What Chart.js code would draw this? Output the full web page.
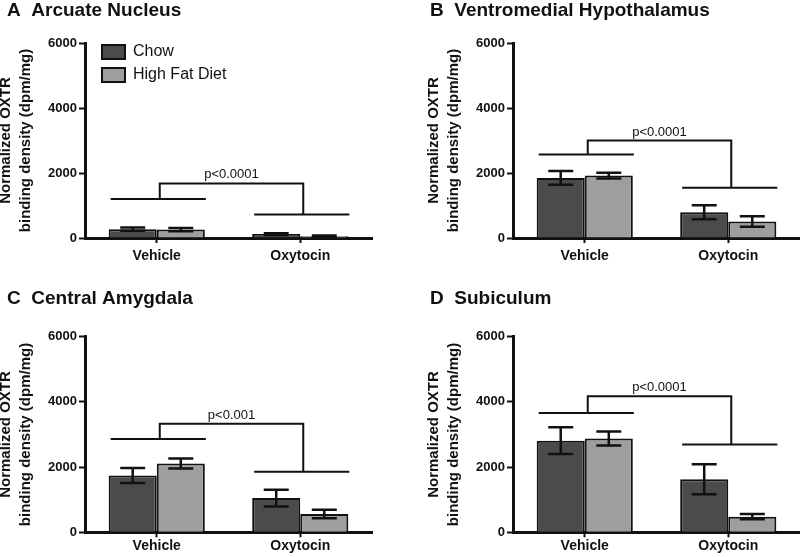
<!DOCTYPE html>
<html>
<head>
<meta charset="utf-8">
<script src="https://cdn.jsdelivr.net/npm/chart.js@4.4.0/dist/chart.umd.min.js"></script>
<style>
  body { margin: 0; background: #fff; }
  #page { position: relative; width: 800px; height: 557px; overflow: hidden; }
  .panel { position: absolute; width: 400px; }
</style>
</head>
<body>
<div id="page">
  <div class="panel" style="left:0;top:0;height:280px"><canvas id="chartA"></canvas></div>
  <div class="panel" style="left:400px;top:0;height:280px"><canvas id="chartB"></canvas></div>
  <div class="panel" style="left:0;top:280px;height:277px"><canvas id="chartC"></canvas></div>
  <div class="panel" style="left:400px;top:280px;height:277px"><canvas id="chartD"></canvas></div>
</div>
<script>
const categories = ['Vehicle', 'Oxytocin'];
const seriesLabels = ['Chow', 'High Fat Diet'];
const yTickValues = [0, 2000, 4000, 6000];

// A - Arcuate Nucleus
const arcChow = [270, 120];
const arcChowSem = [50, 30];
const arcHfd = [260, 55];
const arcHfdSem = [50, 20];
const arcSig = [1200, 720, 1680];   // vehicle line, oxytocin line, bracket top

// B - Ventromedial Hypothalamus
const vmhChow = [1850, 790];
const vmhChowSem = [215, 215];
const vmhHfd = [1920, 510];
const vmhHfdSem = [90, 160];
const vmhSig = [2570, 1550, 3000];

// C - Central Amygdala
const ceaChow = [1740, 1050];
const ceaChowSem = [230, 255];
const ceaHfd = [2110, 560];
const ceaHfdSem = [150, 130];
const ceaSig = [2860, 1860, 3330];

// D - Subiculum
const subChow = [2810, 1630];
const subChowSem = [410, 460];
const subHfd = [2880, 480];
const subHfdSem = [215, 80];
const subSig = [3660, 2690, 4170];

Chart.defaults.font.family = 'Arial, "Liberation Sans", Helvetica, sans-serif';
Chart.defaults.color = '#111';

const panels = [
  { id: 'chartA', title: 'A  Arcuate Nucleus', chow: arcChow, chowSem: arcChowSem, hfd: arcHfd, hfdSem: arcHfdSem, sig: arcSig, p: 'p<0.0001', legend: true, row: 0, col: 0 },
  { id: 'chartB', title: 'B  Ventromedial Hypothalamus', chow: vmhChow, chowSem: vmhChowSem, hfd: vmhHfd, hfdSem: vmhHfdSem, sig: vmhSig, p: 'p<0.0001', legend: false, row: 0, col: 1 },
  { id: 'chartC', title: 'C  Central Amygdala', chow: ceaChow, chowSem: ceaChowSem, hfd: ceaHfd, hfdSem: ceaHfdSem, sig: ceaSig, p: 'p<0.001', legend: false, row: 1, col: 0 },
  { id: 'chartD', title: 'D  Subiculum', chow: subChow, chowSem: subChowSem, hfd: subHfd, hfdSem: subHfdSem, sig: subSig, p: 'p<0.0001', legend: false, row: 1, col: 1 }
];

// spacing per column / row of the figure
const colLayout = [
  { padLeft: 7, padRight: 28, yWidth: 78, yTitleTop: -11 },
  { padLeft: 30, padRight: 0, yWidth: 83, yTitleTop: -6 }
];
const rowLayout = [
  { titlePad: { top: -0.5, bottom: 20.7 }, xHeight: 42, xPad: 4.6 },
  { titlePad: { top: 7.6, bottom: 26.3 }, xHeight: 24.7, xPad: 0 }
];

const errorBarPlugin = {
  id: 'errorBars',
  afterDatasetsDraw(chart) {
    const ctx = chart.ctx;
    const y = chart.scales.y;
    ctx.save();
    ctx.strokeStyle = '#111';
    ctx.lineWidth = 2.5;
    chart.data.datasets.forEach((ds, d) => {
      chart.getDatasetMeta(d).data.forEach((bar, i) => {
        const v = ds.data[i];
        const e = ds.sem[i];
        const top = y.getPixelForValue(v + e);
        const bot = y.getPixelForValue(Math.max(v - e, 0));
        const half = bar.width * 0.26;
        ctx.beginPath();
        ctx.moveTo(bar.x, top); ctx.lineTo(bar.x, bot);
        ctx.moveTo(bar.x - half, top); ctx.lineTo(bar.x + half, top);
        ctx.moveTo(bar.x - half, bot); ctx.lineTo(bar.x + half, bot);
        ctx.stroke();
      });
    });
    ctx.restore();
  }
};

function makeBracket(levels, label) {
  return {
    id: 'bracket',
    afterDatasetsDraw(chart) {
      const ctx = chart.ctx;
      const y = chart.scales.y;
      const m0 = chart.getDatasetMeta(0).data;
      const m1 = chart.getDatasetMeta(1).data;
      const vehY = y.getPixelForValue(levels[0]);
      const oxyY = y.getPixelForValue(levels[1]);
      const topY = y.getPixelForValue(levels[2]);
      const legX = i => (m0[i].x + m1[i].x) / 2 + 3;

      ctx.save();
      ctx.strokeStyle = '#111';
      ctx.lineWidth = 2;
      ctx.beginPath();
      [vehY, oxyY].forEach((ly, i) => {
        ctx.moveTo(m0[i].x - m0[i].width / 2 + 2, ly);
        ctx.lineTo(m1[i].x + m1[i].width / 2 + 1, ly);
      });
      ctx.moveTo(legX(0), vehY);
      ctx.lineTo(legX(0), topY);
      ctx.lineTo(legX(1), topY);
      ctx.lineTo(legX(1), oxyY);
      ctx.stroke();

      ctx.fillStyle = '#111';
      ctx.font = '13px Arial, "Liberation Sans", sans-serif';
      ctx.textAlign = 'center';
      ctx.textBaseline = 'alphabetic';
      ctx.fillText(label, (legX(0) + legX(1)) / 2, topY - 5);
      ctx.restore();
    }
  };
}

// legend sits inside the plot, just right of the y axis
const legendNudge = {
  id: 'legendNudge',
  afterLayout(chart) {
    const lg = chart.legend;
    const area = chart.chartArea;
    const w = lg.right - lg.left;
    lg.left = area.left + 10;
    lg.right = lg.left + w;
    lg.top = area.top - 6;
    lg.bottom = area.bottom;
  }
};

panels.forEach(p => {
  const col = colLayout[p.col];
  const row = rowLayout[p.row];
  const plugins = [errorBarPlugin, makeBracket(p.sig, p.p)];
  if (p.legend) plugins.push(legendNudge);

  new Chart(document.getElementById(p.id), {
    type: 'bar',
    data: {
      labels: categories,
      datasets: [
        { label: seriesLabels[0], data: p.chow, sem: p.chowSem, backgroundColor: '#4b4b4b', borderColor: '#111', borderWidth: 2 },
        { label: seriesLabels[1], data: p.hfd, sem: p.hfdSem, backgroundColor: '#9e9e9e', borderColor: '#111', borderWidth: 2 }
      ]
    },
    plugins: plugins,
    options: {
      responsive: true,
      maintainAspectRatio: false,
      animation: false,
      barPercentage: 1,
      categoryPercentage: 0.67,
      layout: { padding: { left: col.padLeft, right: col.padRight, top: 0, bottom: 0 } },
      plugins: {
        title: {
          display: true,
          text: p.title,
          align: 'start',
          color: '#111',
          font: { size: 19, weight: 'bold' },
          padding: row.titlePad
        },
        legend: {
          display: p.legend,
          position: 'chartArea',
          align: 'start',
          labels: {
            boxWidth: 23,
            boxHeight: 14,
            padding: 7,
            color: '#111',
            font: { size: 16 }
          }
        },
        tooltip: { enabled: false }
      },
      scales: {
        x: {
          offset: true,
          border: { display: true, color: '#111', width: 3 },
          grid: { offset: false, drawOnChartArea: false, drawTicks: true, tickLength: 5, tickWidth: 2, tickColor: '#111' },
          ticks: { color: '#111', padding: row.xPad, font: { size: 14, weight: 'bold' } },
          afterFit: s => { s.height = row.xHeight; }
        },
        y: {
          min: 0,
          max: 6000,
          afterBuildTicks: s => { s.ticks = yTickValues.map(v => ({ value: v })); },
          border: { display: true, color: '#111', width: 3 },
          grid: { drawOnChartArea: false, drawTicks: true, tickLength: 6, tickWidth: 2, tickColor: '#111' },
          ticks: {
            color: '#111',
            padding: 2,
            font: { size: 13, weight: 'bold' },
            callback: v => String(v)
          },
          title: {
            display: true,
            text: ['Normalized OXTR', 'binding density (dpm/mg)'],
            color: '#111',
            font: { size: 15, weight: 'bold', lineHeight: 1.333 },
            padding: { top: col.yTitleTop, bottom: 0 }
          },
          afterFit: s => { s.width = col.yWidth; }
        }
      }
    }
  });
});
</script>
</body>
</html>
